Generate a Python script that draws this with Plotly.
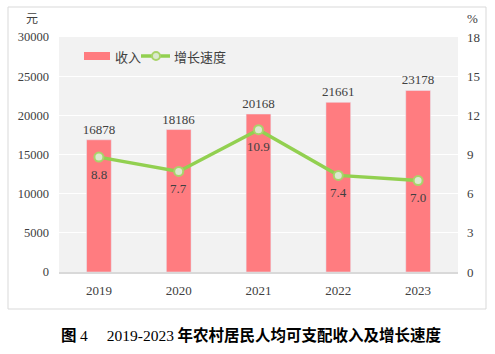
import plotly.graph_objects as go

years = ["2019", "2020", "2021", "2022", "2023"]
income = [16878, 18186, 20168, 21661, 23178]
growth = [8.8, 7.7, 10.9, 7.4, 7.0]
left_ticks = [0, 5000, 10000, 15000, 20000, 25000, 30000]
right_ticks = [0, 3, 6, 9, 12, 15, 18]

W, H = 495, 354
L, R, T, B = 59, 458, 37, 272

def px(x):
    return (x - L) / (R - L)

def py(y):
    return (B - y) / (B - T)

SERIF = "Liberation Serif, Times New Roman, serif"
CJK = "Noto Sans CJK SC, sans-serif"
TXT = "#404040"
BAR = "#ff7c80"
GREEN = "#92d050"
FS = 12.5

fig = go.Figure()
fig.add_trace(go.Bar(
    x=years, y=income, name="收入", marker_color=BAR, width=0.31,
    text=[str(v) for v in income], textposition="outside", constraintext="none",
    textfont=dict(family=SERIF, size=13, color=TXT), cliponaxis=False,
    showlegend=False,
))
fig.add_trace(go.Scatter(
    x=years, y=growth, name="增长速度", yaxis="y2", mode="lines+markers",
    line=dict(color=GREEN, width=3.5),
    marker=dict(size=9, color="#dbe9cf", line=dict(color="#a9d46a", width=2)),
    showlegend=False,
))

fig.update_layout(
    width=W, height=H,
    margin=dict(l=L, r=W - R, t=T, b=H - B),
    paper_bgcolor="white", plot_bgcolor="#f2f2f2",
    bargap=0.69,
    xaxis=dict(type="category", range=[-0.5, len(years) - 0.5], showgrid=False,
               showline=True, linecolor="#d9d9d9", linewidth=1.5,
               tickfont=dict(family=SERIF, size=13, color=TXT), ticks="",
               ticklabelstandoff=6),
    yaxis=dict(range=[0, 30000], tickvals=left_ticks, ticktext=[str(v) for v in left_ticks],
               showgrid=True, gridcolor="white", gridwidth=1.2, zeroline=False,
               tickfont=dict(family=SERIF, size=FS, color=TXT), ticklabelstandoff=9),
    yaxis2=dict(range=[0, 18], tickvals=right_ticks, ticktext=[str(v) for v in right_ticks],
                overlaying="y", side="right",
                showgrid=False, zeroline=False,
                tickfont=dict(family=SERIF, size=13, color=TXT), ticklabelstandoff=8),
    showlegend=False,
)

shapes = [
    dict(type="rect", xref="paper", yref="paper", x0=px(8), x1=px(486), y0=py(7), y1=py(309),
         line=dict(color="#d9d9d9", width=1), fillcolor="rgba(0,0,0,0)", layer="below"),
    # legend swatches
    dict(type="rect", xref="paper", yref="paper", x0=px(84), x1=px(110), y0=py(60), y1=py(52),
         line=dict(width=0), fillcolor=BAR),
    dict(type="line", xref="paper", yref="paper", x0=px(141), x1=px(170), y0=py(56), y1=py(56),
         line=dict(color=GREEN, width=3.5)),
    dict(type="circle", xref="paper", yref="paper", x0=px(152), x1=px(160), y0=py(60), y1=py(52),
         line=dict(color="#a9d46a", width=2), fillcolor="#dbe9cf"),
]
fig.update_layout(shapes=shapes)

annos = [
    dict(text="收入", x=px(113), y=py(56), xanchor="left", yanchor="middle",
         font=dict(family=CJK, size=13, color=TXT)),
    dict(text="增长速度", x=px(172), y=py(56), xanchor="left", yanchor="middle",
         font=dict(family=CJK, size=13, color=TXT)),
    dict(text="元", x=px(32), y=py(28), xanchor="center", yanchor="bottom",
         font=dict(family=CJK, size=12, color=TXT)),
    dict(text="%", x=px(472), y=py(18), xanchor="center", yanchor="middle",
         font=dict(family=SERIF, size=13, color=TXT)),
    dict(text="<b>图</b> <span style='font-family:Liberation Serif'>4</span>　 "
              "<span style='font-family:Liberation Serif'>2019-2023</span> "
              "<b>年农村居民人均可支配收入及增长速度</b>",
         x=px(251), y=py(334), xanchor="center", yanchor="middle",
         font=dict(family=CJK, size=15.5, color="black")),
]
for a in annos:
    a.update(xref="paper", yref="paper", showarrow=False)
for i, g in enumerate(growth):
    annos.append(dict(text=f"{g:.1f}", x=i, y=g, xref="x", yref="y2", showarrow=False,
                      yshift=-17, xanchor="center", yanchor="middle",
                      font=dict(family=SERIF, size=13, color=TXT)))
fig.update_layout(annotations=annos)

fig.write_html("out.html")
